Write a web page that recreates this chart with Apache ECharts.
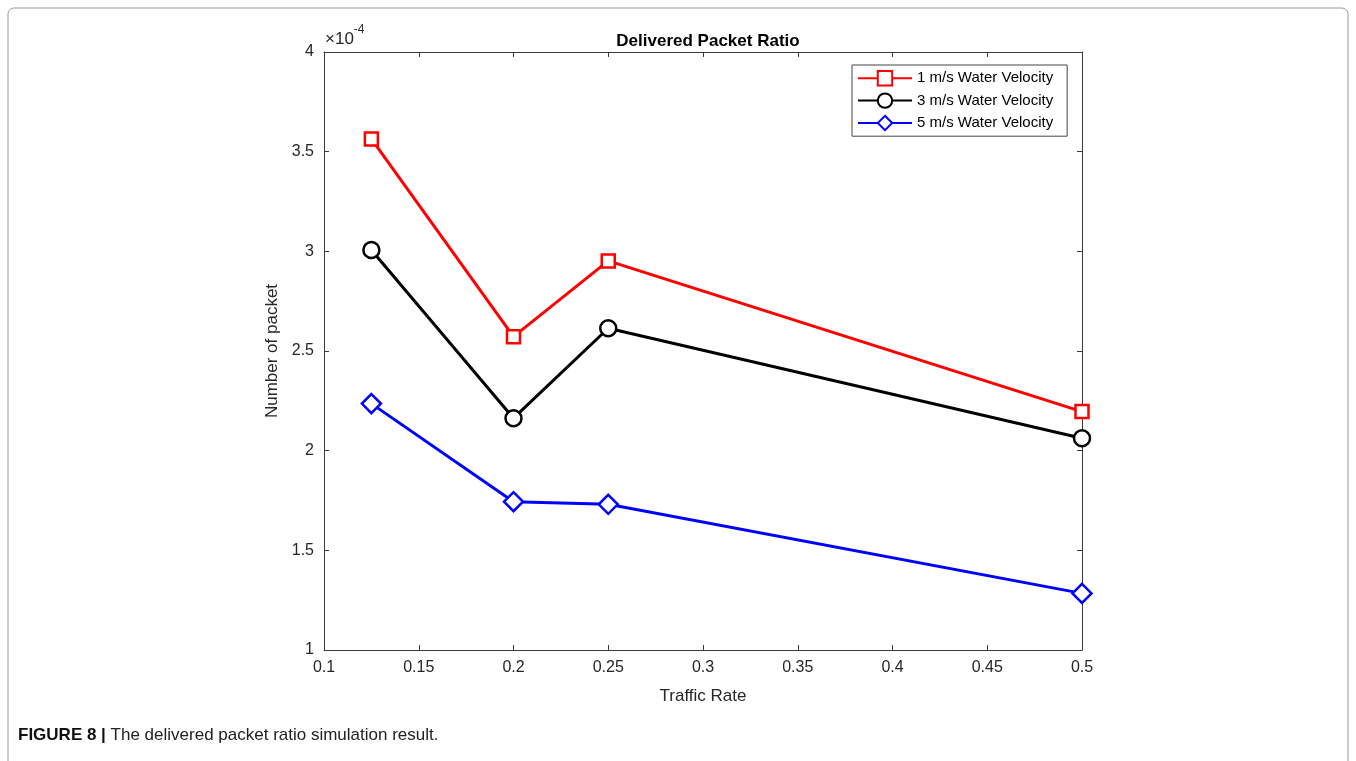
<!DOCTYPE html>
<html>
<head>
<meta charset="utf-8">
<script src="https://cdn.jsdelivr.net/npm/echarts@6/dist/echarts.min.js"></script>
<style>
  html, body { margin: 0; padding: 0; background: #fff; }
  #chart { width: 1356px; height: 761px; }
</style>
</head>
<body>
<div id="chart"></div>
<script>
// Traffic rate (x) and packet counts in units of 1e-4
const trafficRate = [0.125, 0.2, 0.25, 0.5];
const velocity1 = [3.564, 2.572, 2.952, 2.196];
const velocity3 = [3.007, 2.163, 2.614, 2.062];
const velocity5 = [2.236, 1.744, 1.731, 1.284];
const seriesNames = ['1 m/s Water Velocity', '3 m/s Water Velocity', '5 m/s Water Velocity'];

const FONT = '"Liberation Sans", Arial, Helvetica, sans-serif';
const AXIS_COLOR = '#3a3a3a';
const TEXT_COLOR = '#262626';

const pairs = (vals) => trafficRate.map((x, i) => [x, vals[i]]);

const chart = echarts.init(document.getElementById('chart'), null, { renderer: 'canvas' });

const axisCommon = {
  axisLine: { show: true, lineStyle: { color: AXIS_COLOR, width: 1 } },
  axisTick: { show: true, inside: true, length: 5, lineStyle: { color: AXIS_COLOR } },
  splitLine: { show: false }
};

function lineSeries(name, vals, color, symbol, size, width) {
  return {
    name: name,
    type: 'line',
    data: pairs(vals),
    symbol: symbol,
    symbolSize: size,
    clip: false,
    color: color,
    lineStyle: { color: color, width: width },
    itemStyle: { color: '#fff', borderColor: color, borderWidth: 2.5 },
    emphasis: { disabled: true },
    z: 5
  };
}

chart.setOption({
  animation: false,
  backgroundColor: '#fff',
  textStyle: { fontFamily: FONT },
  title: {
    text: 'Delivered Packet Ratio',
    left: 703,
    textAlign: 'center',
    top: 28,
    textStyle: { fontFamily: FONT, fontSize: 17, fontWeight: 'bold', color: '#000' }
  },
  grid: { left: 324, right: 274, top: 52, bottom: 111, containLabel: false },
  legend: {
    data: seriesNames,
    orient: 'vertical',
    left: 852,
    top: 65,
    width: 216,
    padding: [5, 14, 5, 5],
    itemGap: 6,
    itemWidth: 54,
    itemHeight: 18,
    backgroundColor: '#fff',
    borderColor: '#444',
    borderWidth: 1,
    borderRadius: 0,
    textStyle: { fontFamily: FONT, fontSize: 15, color: '#000', padding: [0, 0, 0, 0] },
    selectedMode: false
  },
  xAxis: [
    Object.assign({
      type: 'value',
      min: 0.1,
      max: 0.5,
      interval: 0.05,
      position: 'bottom',
      name: 'Traffic Rate',
      nameLocation: 'middle',
      nameGap: 38,
      nameTextStyle: { fontFamily: FONT, fontSize: 17, color: TEXT_COLOR },
      axisLabel: {
        fontFamily: FONT, fontSize: 16, color: TEXT_COLOR, margin: 10,
        formatter: (v) => String(Math.round(v * 100) / 100)
      }
    }, axisCommon),
    Object.assign({
      type: 'value',
      min: 0.1,
      max: 0.5,
      interval: 0.05,
      position: 'top',
      axisLabel: { show: false }
    }, axisCommon)
  ],
  yAxis: [
    Object.assign({
      type: 'value',
      min: 1,
      max: 4,
      interval: 0.5,
      position: 'left',
      name: 'Number of packet',
      nameLocation: 'middle',
      nameGap: 37,
      nameRotate: 90,
      nameTextStyle: { fontFamily: FONT, fontSize: 17, color: TEXT_COLOR },
      axisLabel: {
        fontFamily: FONT, fontSize: 16, color: TEXT_COLOR, margin: 10,
        formatter: (v) => String(Math.round(v * 10) / 10)
      }
    }, axisCommon),
    Object.assign({
      type: 'value',
      min: 1,
      max: 4,
      interval: 0.5,
      position: 'right',
      axisLabel: { show: false }
    }, axisCommon)
  ],
  graphic: [
    {
      type: 'rect',
      shape: { x: 8, y: 8, width: 1340, height: 780, r: 6 },
      style: { fill: 'none', stroke: '#9a9a9a', lineWidth: 1 },
      silent: true
    },
    {
      type: 'text',
      left: 325,
      top: 24,
      style: {
        text: '{b|×10}{s|-4}',
        rich: {
          b: { fontFamily: FONT, fontSize: 17, fill: TEXT_COLOR, padding: [7, 0, 0, 0] },
          s: { fontFamily: FONT, fontSize: 12, fill: TEXT_COLOR, verticalAlign: 'top', padding: [0, 0, 8, 0] }
        }
      }
    },
    {
      type: 'text',
      left: 18,
      top: 727,
      style: {
        text: '{h|FIGURE 8 |}{t| The delivered packet ratio simulation result.}',
        rich: {
          h: { fontFamily: FONT, fontSize: 17, fontWeight: 'bold', fill: '#111' },
          t: { fontFamily: FONT, fontSize: 17, fill: '#222' }
        }
      }
    }
  ],
  series: [
    lineSeries(seriesNames[0], velocity1, '#ff0000', 'rect', 13, 3),
    lineSeries(seriesNames[1], velocity3, '#000000', 'circle', 16, 3),
    lineSeries(seriesNames[2], velocity5, '#0000ff', 'diamond', 19, 3)
  ]
});
</script>
</body>
</html>
